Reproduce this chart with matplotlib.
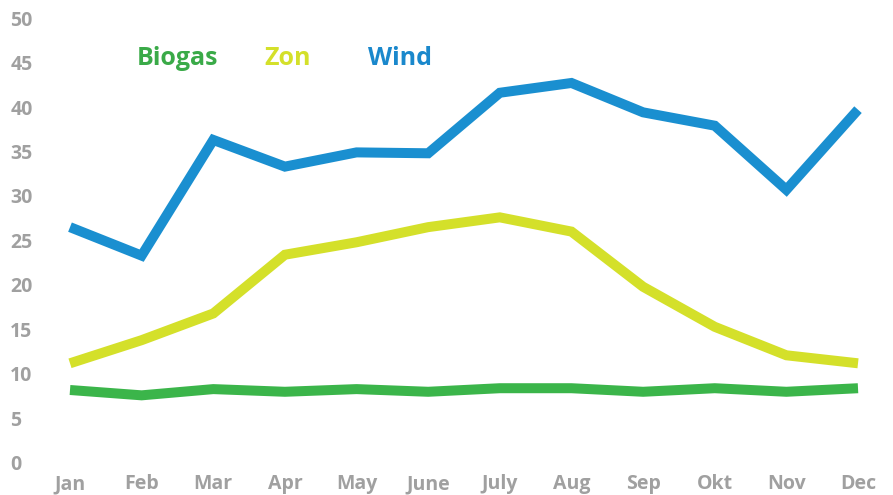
import matplotlib
matplotlib.use("Agg")
import matplotlib.pyplot as plt

# Data
months = ["Jan", "Feb", "Mar", "Apr", "May", "June", "July", "Aug", "Sep", "Okt", "Nov", "Dec"]
biogas = [8.2, 7.6, 8.3, 8.0, 8.3, 8.0, 8.4, 8.4, 8.0, 8.4, 8.0, 8.4]
zon = [11.2, 13.8, 16.8, 23.4, 24.8, 26.5, 27.6, 26.0, 19.8, 15.3, 12.1, 11.2]
wind = [26.5, 23.3, 36.3, 33.3, 34.9, 34.8, 41.6, 42.7, 39.4, 37.9, 30.7, 39.7]
yticks = [0, 5, 10, 15, 20, 25, 30, 35, 40, 45, 50]

c_bio = "#3bb54a"
c_zon = "#d4e02a"
c_wind = "#1a8fd0"
c_tick = "#a0a0a0"

plt.rcParams['font.family'] = ['Open Sans', 'DejaVu Sans']

fig = plt.figure(figsize=(8.93, 4.95), dpi=100)
W, H = 893, 495
ax = fig.add_axes([45 / W, 1 - 470 / H, (880 - 45) / W, (470 - 10) / H])

x = range(len(months))
lw = 7.2
ax.plot(x, biogas, color=c_bio, lw=lw, solid_capstyle="butt", solid_joinstyle="miter")
ax.plot(x, zon, color=c_zon, lw=lw, solid_capstyle="butt", solid_joinstyle="miter")
ax.plot(x, wind, color=c_wind, lw=lw, solid_capstyle="butt", solid_joinstyle="miter")

ax.set_xlim(-0.349, 11.307)
ax.set_ylim(-0.79, 50.9)

ax.set_xticks(list(x))
ax.set_xticklabels(months, fontsize=14, fontweight="bold", color=c_tick)
ax.set_yticks(yticks)
ax.set_yticklabels([str(v) for v in yticks], fontsize=14, fontweight="bold", color=c_tick,
                   ha="left")
ax.tick_params(axis="y", length=0, pad=25)
ax.tick_params(axis="x", length=0, pad=3)
for s in ax.spines.values():
    s.set_visible(False)

# legend as coloured words
ax.text(0.935, 45.5, "Biogas", color="#3aaa48", fontsize=18, fontweight="bold", va="center")
ax.text(2.72, 45.5, "Zon", color=c_zon, fontsize=18, fontweight="bold", va="center")
ax.text(4.16, 45.5, "Wind", color="#1a88cc", fontsize=18, fontweight="bold", va="center")

fig.savefig("out.png", dpi=100)
